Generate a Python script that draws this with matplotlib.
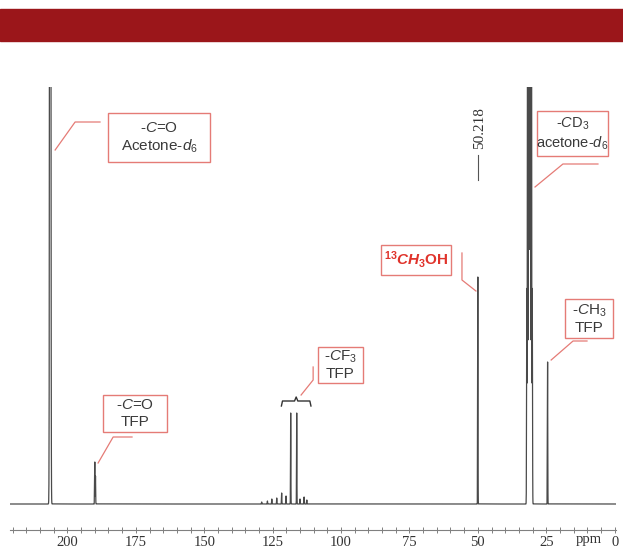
import numpy as np
import matplotlib
matplotlib.use('Agg')
import matplotlib.pyplot as plt
from matplotlib.patches import Rectangle

# ---- peak list (ppm, height above baseline, gaussian sigma) ----
peak_ppm = [206.3,
            190.0, 189.75,
            129.0, 126.9, 125.3, 123.5, 121.7, 120.1, 118.4, 116.2, 115.0, 113.5, 112.5,
            50.0,
            32.1, 31.8, 31.45, 31.1, 30.75, 30.4, 30.1,
            24.5]
peak_height = [3000,
               42, 28,
               2, 3, 5, 6, 11, 8, 91, 91, 5, 7, 4,
               227,
               215, 645, 1290, 1505, 1290, 645, 215,
               142]
peak_sigma = [0.15,
              0.06, 0.06,
              0.06, 0.06, 0.06, 0.06, 0.06, 0.06, 0.06, 0.06, 0.06, 0.06, 0.06,
              0.06,
              0.08, 0.08, 0.08, 0.08, 0.08, 0.08, 0.08,
              0.06]

major_ticks = [200, 175, 150, 125, 100, 75, 50, 25, 0]
shift_label = '50.218'

plt.rcParams['font.family'] = ['Liberation Sans', 'DejaVu Sans']
plt.rcParams['mathtext.fontset'] = 'custom'
plt.rcParams['mathtext.rm'] = 'Liberation Sans'
plt.rcParams['mathtext.it'] = 'Liberation Sans:italic'
plt.rcParams['mathtext.bf'] = 'Liberation Sans:bold'
plt.rcParams['mathtext.bfit'] = 'Liberation Sans:italic:bold'

BOX = '#e57b76'
TXT = '#3a3a3a'

fig = plt.figure(figsize=(6.23, 5.5), dpi=100)
fig.patches.append(Rectangle((0, 1 - 41 / 550), 1, 32 / 550, transform=fig.transFigure,
                             color='#9b161a', zorder=0))

ax = fig.add_axes([10 / 623, 20 / 550, 606 / 623, 443 / 550])

x = np.arange(-0.5, 221.0, 0.005)
y = np.zeros_like(x)
for p, h, s in zip(peak_ppm, peak_height, peak_sigma):
    y += h * np.exp(-(x - p) ** 2 / (2 * s ** 2))
ax.plot(x, y, color='#4a4a4a', lw=0.9)

ax.set_xlim(221, -0.5)
ax.set_ylim(-26, 417)

for side in ['top', 'left', 'right']:
    ax.spines[side].set_visible(False)
ax.spines['bottom'].set_color('#808080')
ax.spines['bottom'].set_linewidth(0.8)
ax.set_yticks([])
ax.set_xticks(major_ticks)
ax.set_xticks(np.arange(0, 221, 5), minor=True)
ax.tick_params(axis='x', which='both', direction='inout', color='#808080', width=0.7)
ax.tick_params(axis='x', which='major', length=5, pad=2)
ax.tick_params(axis='x', which='minor', length=4)
for lab in ax.get_xticklabels():
    lab.set_family('Liberation Serif')
    lab.set_fontsize(10.5)
    lab.set_color('#333333')
ax.text(9.5, -36, 'ppm', family='Liberation Serif', fontsize=10.5, color='#333333',
        ha='center', va='center', clip_on=False)


def label_box(x0, x1, y0, y1, text, color=TXT, size=11, **kw):
    ax.add_patch(Rectangle((x0, y0), x1 - x0, y1 - y0, fill=True, facecolor='white',
                           edgecolor=BOX, lw=1.0, zorder=3))
    ax.text((x0 + x1) / 2, (y0 + y1) / 2, text, ha='center', va='center',
            fontsize=size, color=color, linespacing=1.2, zorder=4, **kw)


def leader(xs, ys, color=BOX):
    ax.plot(xs, ys, color=color, lw=0.9, zorder=2)


# acetone C=O
label_box(185.2, 147.9, 342, 391, '-$\\mathit{C}$=O\nAcetone-$\\mathit{d}_6$')
leader([204.5, 197.2, 188.1], [354, 382, 382])

# acetone CD3
label_box(28.4, 2.4, 348, 393, '-$\\mathit{C}\\mathrm{D}_3$\nacetone-$\\mathit{d}_6$', size=10.5)
leader([29.1, 18.9, 6.1], [317, 340, 340])

# 13CH3OH
label_box(85.4, 59.8, 229, 259,
          '$^{\\mathbf{13}}\\mathbfit{CH}_{\\mathbf{3}}\\mathbf{OH}$', color='#e0332b')
leader([55.8, 55.8, 50.7], [251, 224, 213])

# TFP CH3
label_box(18.1, 0.6, 166, 205, '-$\\mathit{C}\\mathrm{H}_3$\nTFP')
leader([23.2, 15.2, 10.1], [144, 163, 163])

# TFP C=O
label_box(187.0, 163.6, 72, 109, '-$\\mathit{C}$=O\nTFP')
leader([188.8, 183.3, 176.4], [41, 67, 67])

# TFP CF3
label_box(108.4, 92.0, 121, 157, '-$\\mathit{C}\\mathrm{F}_3$\nTFP')
leader([114.6, 110.2, 110.2], [109, 124, 137])
ax.plot([121.8, 121.4, 117.0, 116.4, 115.8, 111.4, 111.0],
        [98, 103, 103, 107, 103, 103, 98], color='#333333', lw=1.0)

# chemical shift mark
ax.text(49.3, 376, shift_label, rotation=90, ha='center', va='center',
        family='Liberation Serif', fontsize=11, color='#333333')
ax.plot([49.9, 49.9], [324, 349], color='#555555', lw=0.8)

fig.savefig('out.png', dpi=100)
